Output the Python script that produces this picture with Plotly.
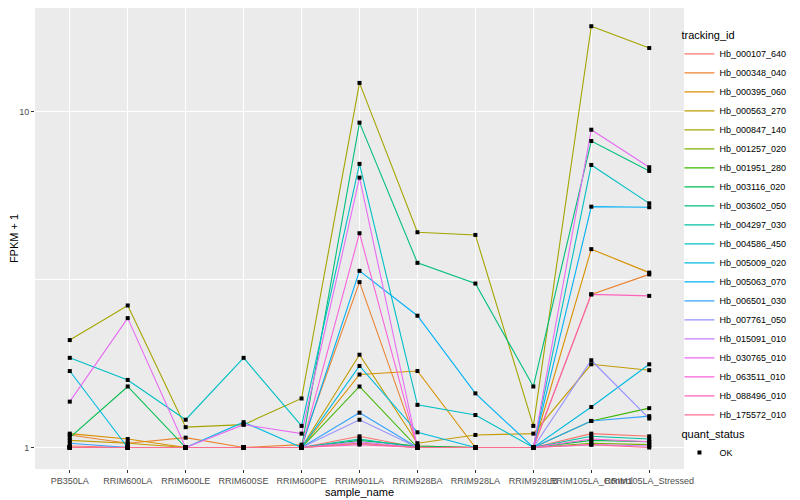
import plotly.graph_objects as go

samples = ["PB350LA", "RRIM600LA", "RRIM600LE", "RRIM600SE", "RRIM600PE",
           "RRIM901LA", "RRIM928BA", "RRIM928LA", "RRIM928LB",
           "RRIM105LA_Control", "RRIM105LA_Stressed"]

tracking_ids = ["Hb_000107_640", "Hb_000348_040", "Hb_000395_060", "Hb_000563_270",
                "Hb_000847_140", "Hb_001257_020", "Hb_001951_280", "Hb_003116_020",
                "Hb_003602_050", "Hb_004297_030", "Hb_004586_450", "Hb_005009_020",
                "Hb_005063_070", "Hb_006501_030", "Hb_007761_050", "Hb_015091_010",
                "Hb_030765_010", "Hb_063511_010", "Hb_088496_010", "Hb_175572_010"]

# FPKM + 1 values per gene, in sample order
Hb_000107_640 = [1.01, 1.00, 1.00, 1.00, 1.00, 1.08, 1.00, 1.00, 1.00, 1.10, 1.08]
Hb_000348_040 = [1.09, 1.03, 1.07, 1.00, 1.02, 3.11, 1.01, 1.00, 1.00, 2.86, 3.28]
Hb_000395_060 = [1.10, 1.06, 1.00, 1.00, 1.00, 1.65, 1.69, 1.00, 1.00, 3.90, 3.32]
Hb_000563_270 = [1.05, 1.03, 1.00, 1.00, 1.00, 1.89, 1.03, 1.09, 1.10, 1.77, 1.70]
Hb_000847_140 = [2.09, 2.65, 1.15, 1.17, 1.40, 12.2, 4.38, 4.30, 1.16, 18.0, 15.5]
Hb_001257_020 = [1.00, 1.00, 1.00, 1.00, 1.00, 1.03, 1.00, 1.00, 1.00, 1.03, 1.02]
Hb_001951_280 = [1.00, 1.00, 1.00, 1.00, 1.00, 1.52, 1.00, 1.00, 1.00, 1.20, 1.31]
Hb_003116_020 = [1.07, 1.52, 1.00, 1.00, 1.00, 1.05, 1.01, 1.00, 1.00, 1.05, 1.04]
Hb_003602_050 = [1.00, 1.00, 1.00, 1.00, 1.00, 9.29, 3.55, 3.08, 1.52, 8.19, 6.67]
Hb_004297_030 = [1.00, 1.00, 1.00, 1.00, 1.00, 1.06, 1.00, 1.00, 1.00, 1.08, 1.06]
Hb_004586_450 = [1.85, 1.59, 1.21, 1.85, 1.16, 7.00, 1.34, 1.25, 1.00, 6.95, 5.34]
Hb_005009_020 = [1.69, 1.00, 1.00, 1.19, 1.00, 1.75, 1.11, 1.00, 1.00, 1.32, 1.77]
Hb_005063_070 = [1.00, 1.00, 1.00, 1.00, 1.00, 3.36, 2.47, 1.45, 1.00, 5.22, 5.20]
Hb_006501_030 = [1.03, 1.00, 1.00, 1.00, 1.00, 1.27, 1.00, 1.00, 1.00, 1.20, 1.24]
Hb_007761_050 = [1.00, 1.00, 1.00, 1.00, 1.00, 1.21, 1.00, 1.00, 1.00, 1.82, 1.22]
Hb_015091_010 = [1.00, 1.00, 1.00, 1.00, 1.00, 1.04, 1.00, 1.00, 1.00, 1.02, 1.01]
Hb_030765_010 = [1.37, 2.43, 1.00, 1.17, 1.10, 6.37, 1.00, 1.00, 1.00, 8.85, 6.84]
Hb_063511_010 = [1.00, 1.00, 1.00, 1.00, 1.00, 4.35, 1.00, 1.00, 1.00, 1.06, 1.04]
Hb_088496_010 = [1.00, 1.00, 1.00, 1.00, 1.00, 1.02, 1.00, 1.00, 1.00, 2.86, 2.83]
Hb_175572_010 = [1.00, 1.00, 1.00, 1.00, 1.00, 1.03, 1.00, 1.00, 1.00, 1.02, 1.00]

series_values = [Hb_000107_640, Hb_000348_040, Hb_000395_060, Hb_000563_270,
                 Hb_000847_140, Hb_001257_020, Hb_001951_280, Hb_003116_020,
                 Hb_003602_050, Hb_004297_030, Hb_004586_450, Hb_005009_020,
                 Hb_005063_070, Hb_006501_030, Hb_007761_050, Hb_015091_010,
                 Hb_030765_010, Hb_063511_010, Hb_088496_010, Hb_175572_010]

colors = ["#F8766D", "#EA8331", "#D89000", "#C09B00", "#A3A500", "#7CAE00", "#39B600",
          "#00BB4E", "#00BF7D", "#00C1A3", "#00BFC4", "#00BAE0", "#00B0F6", "#35A2FF",
          "#9590FF", "#C77CFF", "#E76BF3", "#FA62DB", "#FF62BC", "#FF6C91"]

y_ticks = [1, 10]
y_tick_labels = ["1", "10"]

FONT = "Liberation Sans, Arial, sans-serif"

fig = go.Figure()
for name, vals, col in zip(tracking_ids, series_values, colors):
    fig.add_trace(go.Scatter(
        x=samples, y=vals, mode="lines", name=name,
        line=dict(color=col, width=1.1), legend="legend",
    ))

all_x = [s for _ in series_values for s in samples]
all_y = [v for vals in series_values for v in vals]
fig.add_trace(go.Scatter(
    x=all_x, y=all_y, mode="markers", name="OK",
    marker=dict(symbol="square", size=4, color="black"),
    legend="legend2",
))

fig.update_layout(
    width=792, height=492,
    margin=dict(l=27, r=116, t=0, b=31, autoexpand=False),
    paper_bgcolor="white", plot_bgcolor="#EBEBEB",
    font=dict(family=FONT, size=9, color="black"),
    xaxis=dict(
        type="category", categoryorder="array", categoryarray=samples,
        range=[-0.6, 10.6], showgrid=True, gridcolor="white", gridwidth=1.1,
        ticks="outside", ticklen=3, tickcolor="#333333", tickangle=0,
        tickfont=dict(size=9, color="#4D4D4D"), zeroline=False, showline=False,
        title=dict(text="sample_name", font=dict(size=11, color="black"), standoff=0),
    ),
    yaxis=dict(
        type="log", range=[-0.064, 1.3096],
        tickvals=y_ticks, ticktext=y_tick_labels,
        showgrid=True, gridcolor="white", gridwidth=1.1,
        ticks="outside", ticklen=3, tickcolor="#333333",
        tickfont=dict(size=9, color="#4D4D4D"), zeroline=False, showline=False,
        minor=dict(tickvals=[10 ** 0.5], showgrid=True, gridcolor="white",
                   gridwidth=0.5, ticklen=0),
        title=dict(text="FPKM + 1", font=dict(size=11, color="black"), standoff=4),
    ),
    legend=dict(
        title=dict(text="tracking_id", font=dict(size=11)),
        x=0.993, xanchor="left", y=0.963, yanchor="top",
        font=dict(size=9), bgcolor="rgba(0,0,0,0)", tracegroupgap=0,
    ),
    legend2=dict(
        title=dict(text="quant_status", font=dict(size=11)),
        x=0.993, xanchor="left", y=0.098, yanchor="top",
        font=dict(size=9), bgcolor="rgba(0,0,0,0)",
    ),
    showlegend=True,
)

fig.write_html("out.html")
